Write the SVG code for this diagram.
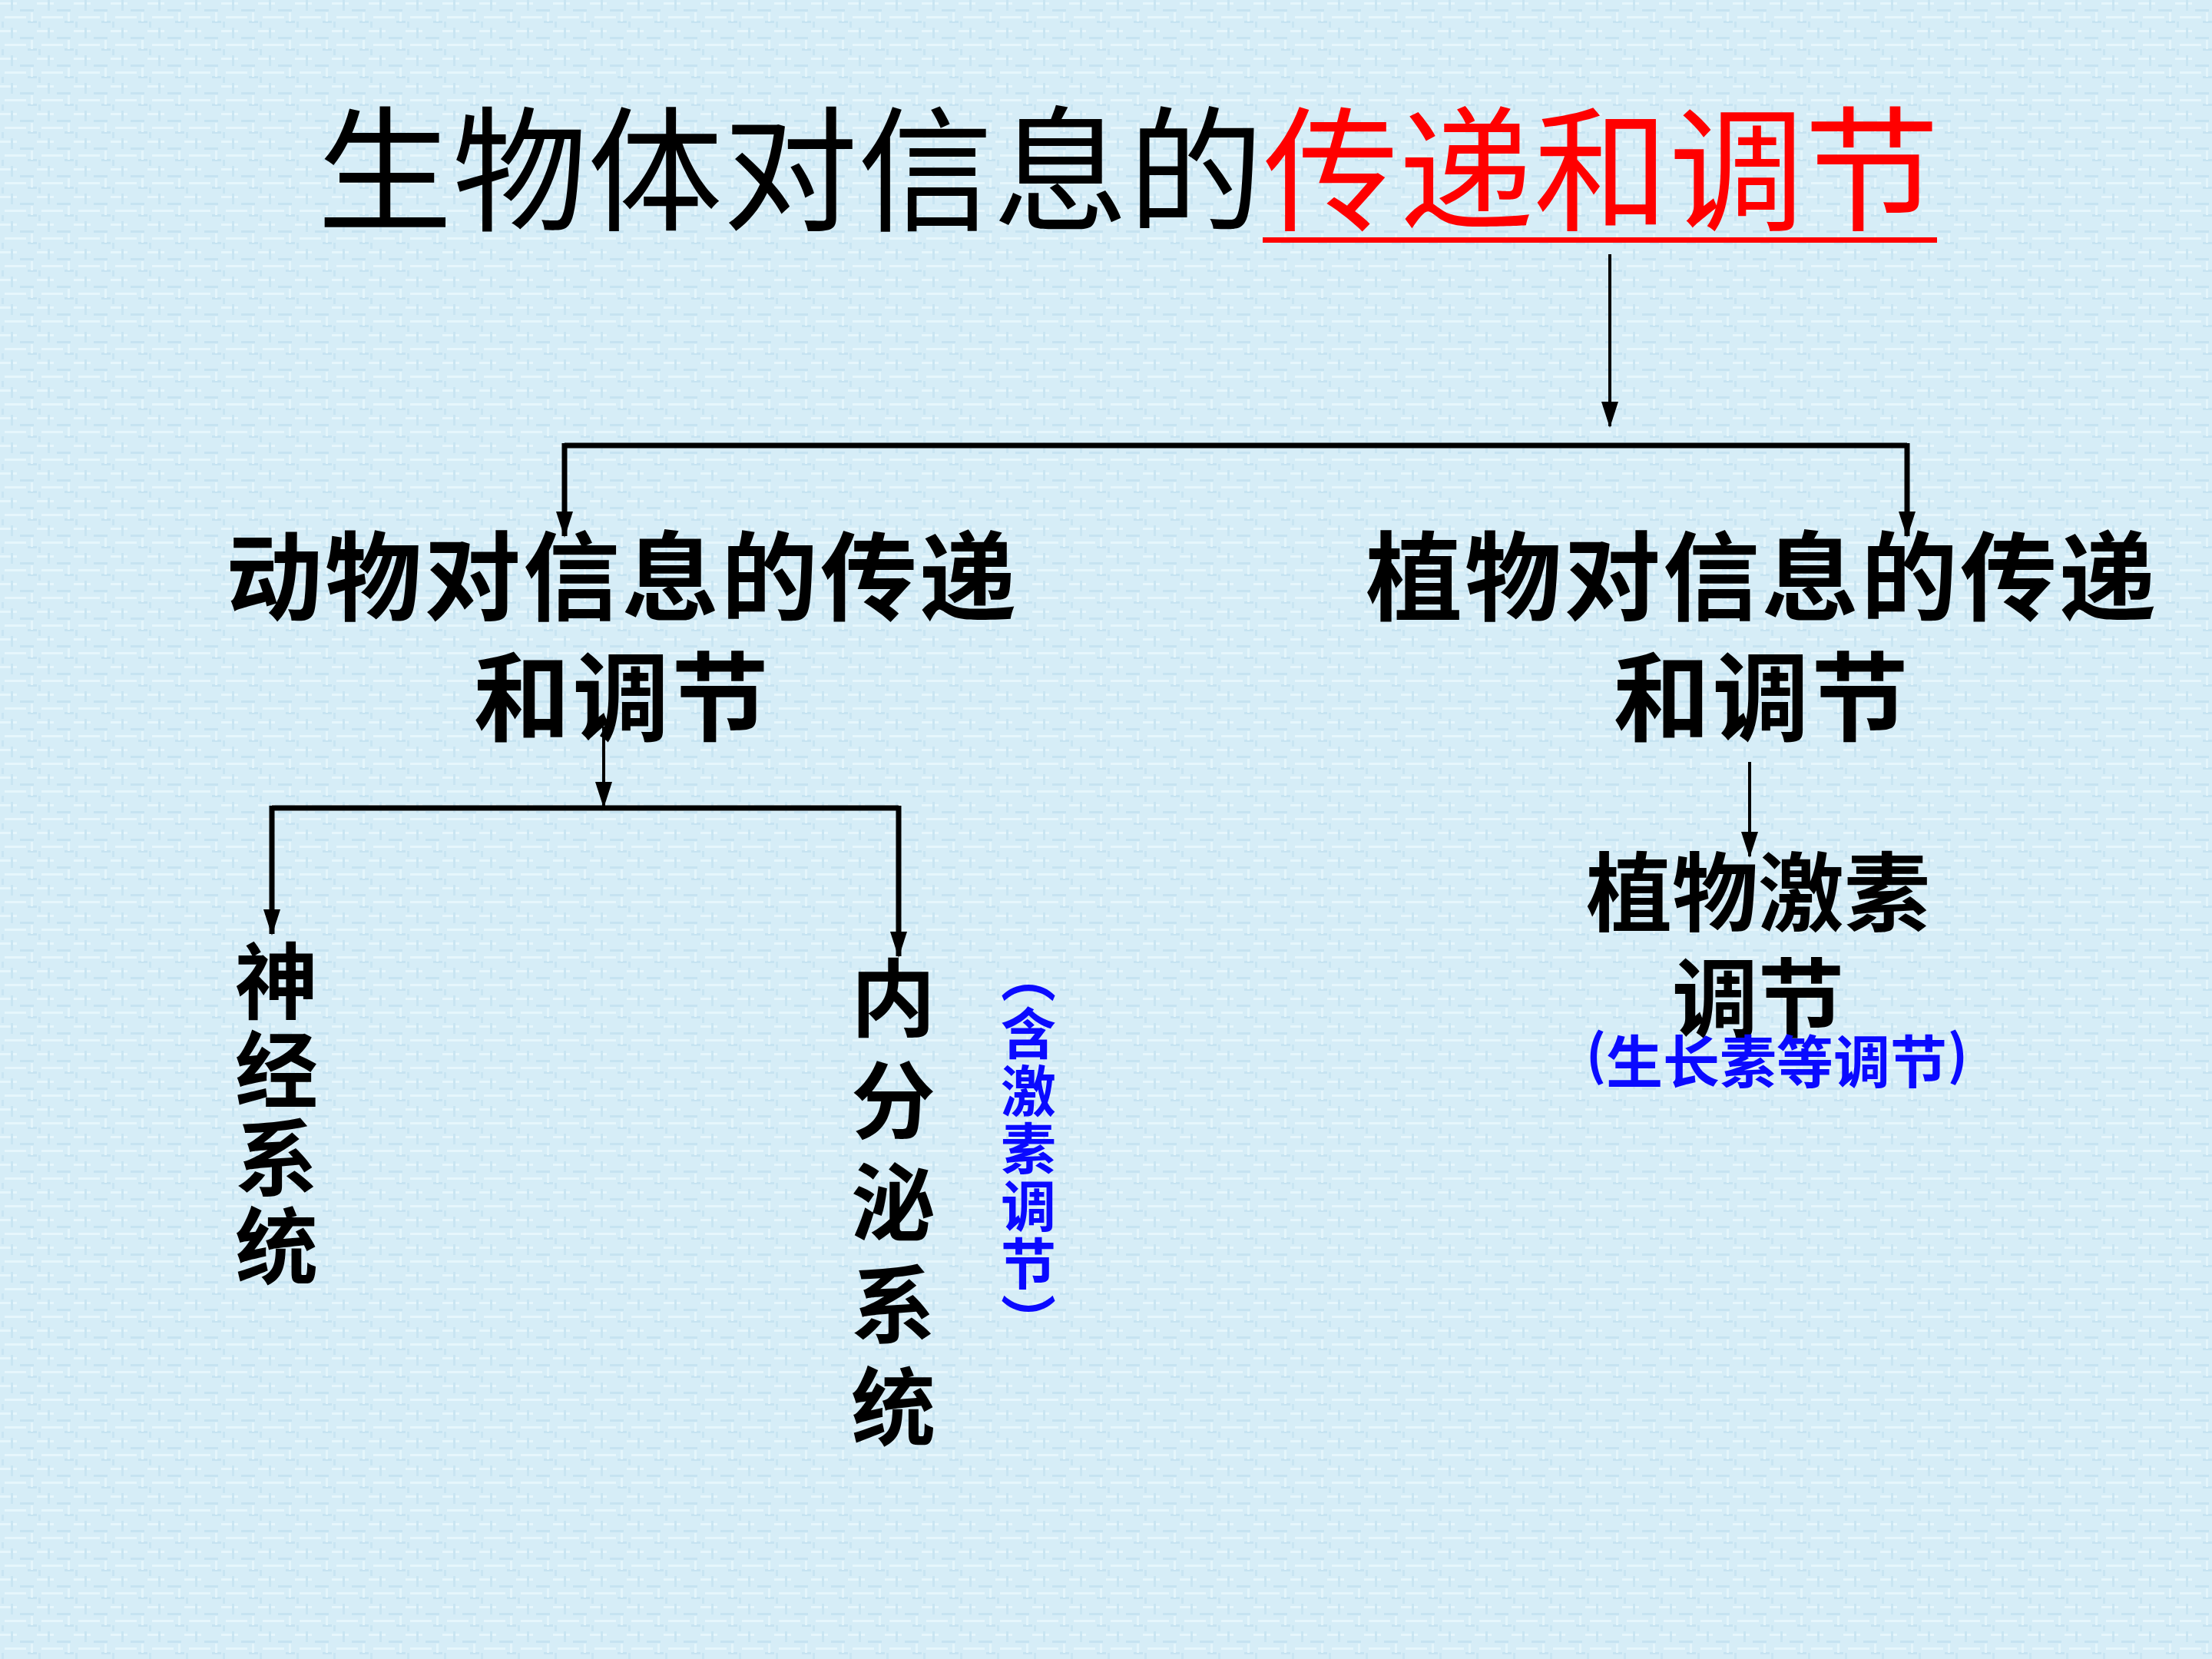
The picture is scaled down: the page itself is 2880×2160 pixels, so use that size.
<svg xmlns="http://www.w3.org/2000/svg" width="2880" height="2160" viewBox="0 0 2880 2160">
<style>
.title{font-family:"Noto Sans CJK SC",sans-serif;font-size:176px;font-weight:400;fill:#000;}
.b{font-family:"Noto Sans CJK SC",sans-serif;font-weight:700;fill:#000;text-anchor:middle;}
.blue{font-family:"Noto Sans CJK SC",sans-serif;font-weight:700;fill:#0a0aff;text-anchor:middle;}
.vert{font-family:"Noto Sans CJK SC",sans-serif;font-weight:700;fill:#0a0aff;writing-mode:vertical-rl;}
.thin{stroke:#000;stroke-width:4;fill:none;}
.thick{stroke:#000;stroke-width:7;fill:none;}
</style>
<defs>
<pattern id="tex" width="48" height="36" patternUnits="userSpaceOnUse">
<rect width="48" height="36" fill="#d6edf7"/>
<rect x="0" y="3" width="22" height="3" fill="#e6f6fc"/>
<rect x="26" y="12" width="18" height="3" fill="#c6e3f1"/>
<rect x="6" y="21" width="28" height="3" fill="#e6f6fc"/>
<rect x="36" y="27" width="12" height="3" fill="#c6e3f1"/>
<rect x="14" y="0" width="3" height="14" fill="#c9e5f2"/>
<rect x="40" y="16" width="3" height="12" fill="#e4f5fb"/>
<rect x="2" y="28" width="3" height="8" fill="#c9e5f2"/>
</pattern>
<marker id="arr" markerWidth="34" markerHeight="22" refX="32" refY="11" orient="auto" markerUnits="userSpaceOnUse" viewBox="0 0 34 22">
<path d="M0,0 L34,11 L0,22 Z" fill="#000"/>
</marker>
</defs>
<rect width="2880" height="2160" fill="url(#tex)"/>

<g id="title">
<text class="title" x="413" y="287" textLength="2112" lengthAdjust="spacingAndGlyphs">生物体对信息的<tspan fill="#ff0000">传递和调节</tspan></text>
<rect x="1644" y="309" width="878" height="7" fill="#ff0000"/>
</g>

<g id="connectors">
<line class="thin" x1="2096" y1="331" x2="2096" y2="555" marker-end="url(#arr)"/>
<polyline class="thick" points="735,580 2483,580"/>
<line class="thick" x1="735" y1="577" x2="735" y2="698" marker-end="url(#arr)"/>
<line class="thick" x1="2483" y1="577" x2="2483" y2="698" marker-end="url(#arr)"/>
<line class="thin" x1="786" y1="946" x2="786" y2="1050" marker-end="url(#arr)"/>
<polyline class="thick" points="354,1052 1170,1052"/>
<line class="thick" x1="354" y1="1049" x2="354" y2="1216" marker-end="url(#arr)"/>
<line class="thick" x1="1170" y1="1049" x2="1170" y2="1245" marker-end="url(#arr)"/>
<line class="thin" x1="2278" y1="992" x2="2278" y2="1115" marker-end="url(#arr)"/>
</g>

<g id="animal">
<text class="b" x="810" y="798" font-size="126" letter-spacing="3">动物对信息的传递</text>
<text class="b" x="810" y="955" font-size="126" letter-spacing="3">和调节</text>
</g>

<g id="plant">
<text class="b" x="2294" y="798" font-size="126" letter-spacing="3">植物对信息的传递</text>
<text class="b" x="2294" y="955" font-size="126" letter-spacing="3">和调节</text>
</g>

<g id="nervous">
<text class="b" font-size="108" x="360" y="1318">神</text>
<text class="b" font-size="108" x="360" y="1433">经</text>
<text class="b" font-size="108" x="360" y="1548">系</text>
<text class="b" font-size="108" x="360" y="1663">统</text>
</g>

<g id="endocrine">
<text class="b" font-size="110" x="1163" y="1341">内</text>
<text class="b" font-size="110" x="1163" y="1474">分</text>
<text class="b" font-size="110" x="1163" y="1607">泌</text>
<text class="b" font-size="110" x="1163" y="1740">系</text>
<text class="b" font-size="110" x="1163" y="1873">统</text>
</g>

<g id="endocrine-note">
<text class="vert" font-size="72" letter-spacing="3" x="1339" y="1234">（含激素调节）</text>
</g>

<g id="plant-hormone">
<text class="b" x="2289" y="1204" font-size="112">植物激素</text>
<text class="b" x="2289" y="1342" font-size="112">调节</text>
<text class="blue" x="2078" y="1399" font-size="70" font-weight="400">(</text>
<text class="blue" x="2313" y="1410" font-size="74">生长素等调节</text>
<text class="blue" x="2549" y="1399" font-size="70" font-weight="400">)</text>
</g>
</svg>
